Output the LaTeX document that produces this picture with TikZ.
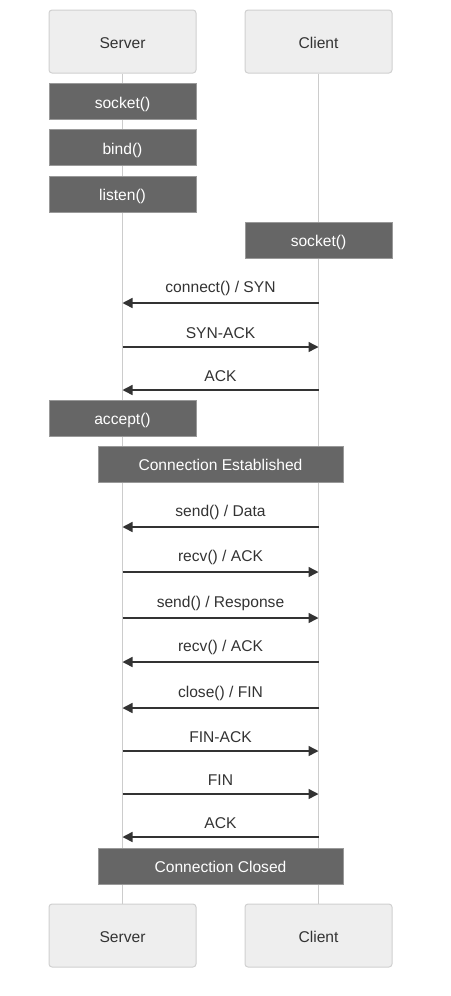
\documentclass[tikz,border=0pt]{standalone}
\usepackage{fontspec}
\setmainfont{Liberation Sans}
\usetikzlibrary{arrows.meta}
\definecolor{actfill}{HTML}{EEEEEE}
\definecolor{actdraw}{HTML}{D0D0D0}
\definecolor{notefill}{HTML}{666666}
\definecolor{notedraw}{HTML}{999999}
\definecolor{lifecol}{HTML}{CCCCCC}
\definecolor{txt}{HTML}{333333}
\tikzset{
  fnt/.style={font=\fontsize{11.7pt}{14pt}\selectfont},
  actor/.style={draw=actdraw, fill=actfill, rounded corners=2.25pt, line width=0.75pt,
    minimum width=110.25pt, minimum height=47.25pt, inner sep=0pt,
    fnt, text=txt, text height=10pt, text depth=0.2pt},
  note/.style={draw=notedraw, fill=notefill, line width=0.75pt,
    minimum width=110.25pt, minimum height=27pt, inner sep=0pt,
    fnt, text=white, text height=10pt, text depth=0.2pt},
  widenote/.style={note, minimum width=183.75pt},
  life/.style={draw=lifecol, line width=1.1pt},
  msg/.style={draw=txt, line width=1.1pt, -{Triangle[length=7.5pt,width=7.5pt]}},
  lbl/.style={midway, inner sep=0pt, yshift=10.6pt, fnt, text=txt}
}
\begin{document}
\begin{tikzpicture}[x=0.75pt,y=-0.75pt]
\useasboundingbox (0,0) rectangle (450,996);
% actors
\node[actor] (st) at (122.5,41.5) {Server};
\node[actor] (ct) at (318.5,41.5) {Client};
\node[actor] (sb) at (122.5,935.5) {Server};
\node[actor] (cb) at (318.5,935.5) {Client};
% lifelines
\draw[life] (st.south) -- (sb.north);
\draw[life] (ct.south) -- (cb.north);
% notes
\node[note] (n1) at (122.5,101.5) {socket()};
\node[note] (n2) at (122.5,147.5) {bind()};
\node[note] (n3) at (122.5,194) {listen()};
\node[note] (n4) at (318.5,240) {socket()};
\node[note] (n5) at (122.5,418) {accept()};
\node[widenote] (n6) at (220.5,464) {Connection Established};
\node[widenote] (n7) at (220.5,866) {Connection Closed};
% message endpoints
\foreach \i/\y in {1/303,2/347,3/390,4/527,5/572,6/618,7/662,8/708,9/751,10/794,11/837}{
  \coordinate (s\i) at (122.5,\y);
  \coordinate (c\i) at (318.5,\y);
}
\draw[msg] (c1) -- node[lbl] {connect() / SYN} (s1);
\draw[msg] (s2) -- node[lbl] {SYN-ACK} (c2);
\draw[msg] (c3) -- node[lbl] {ACK} (s3);
\draw[msg] (c4) -- node[lbl] {send() / Data} (s4);
\draw[msg] (s5) -- node[lbl] {recv() / ACK} (c5);
\draw[msg] (s6) -- node[lbl] {send() / Response} (c6);
\draw[msg] (c7) -- node[lbl] {recv() / ACK} (s7);
\draw[msg] (c8) -- node[lbl] {close() / FIN} (s8);
\draw[msg] (s9) -- node[lbl] {FIN-ACK} (c9);
\draw[msg] (s10) -- node[lbl] {FIN} (c10);
\draw[msg] (c11) -- node[lbl] {ACK} (s11);
\end{tikzpicture}
\end{document}
